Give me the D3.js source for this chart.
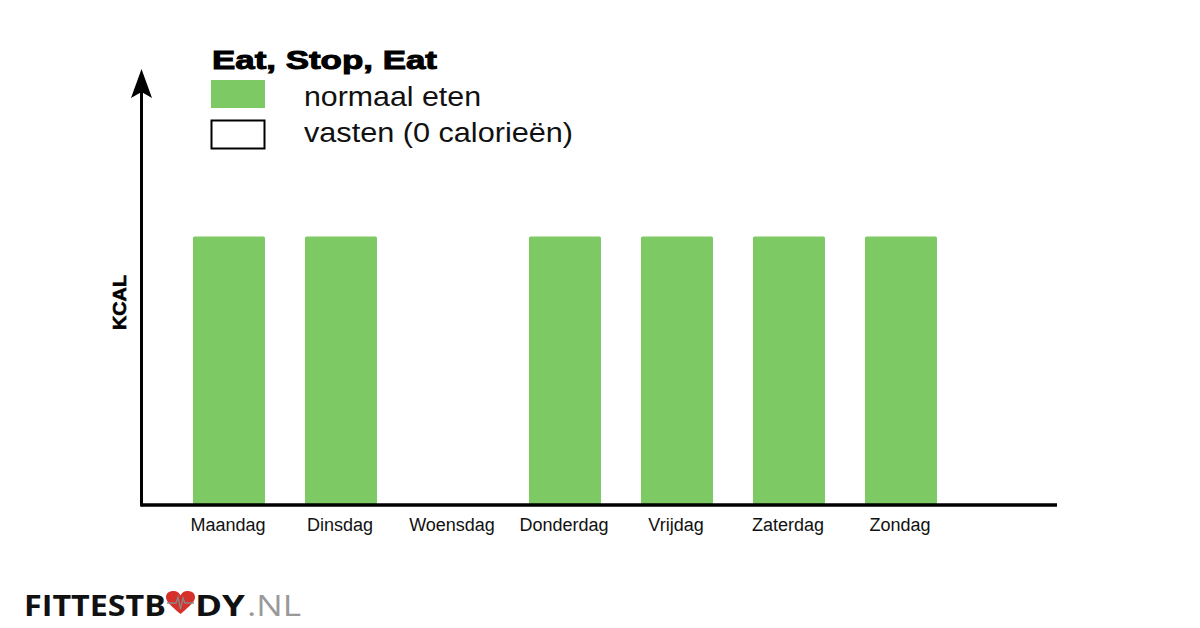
<!DOCTYPE html>
<html>
<head>
<meta charset="utf-8">
<script src="https://cdn.jsdelivr.net/npm/d3@7"></script>
<style>
  html, body { margin: 0; padding: 0; background: #fff; }
  svg { display: block; }
</style>
</head>
<body>
<svg id="chart" width="1200" height="628"></svg>
<script>
// ---- data ----
const days = ["Maandag", "Dinsdag", "Woensdag", "Donderdag", "Vrijdag", "Zaterdag", "Zondag"];
const kcal = [2000, 2000, 0, 2000, 2000, 2000, 2000];
const legendLabels = ["normaal eten", "vasten (0 calorieën)"];
const titleText = "Eat, Stop, Eat";
const yLabel = "KCAL";

const green = "#7dc963";
const svg = d3.select("#chart");

const x = d3.scaleBand().domain(days).range([173, 957]).paddingInner(40 / 112).paddingOuter(20 / 112);
const y = d3.scaleLinear().domain([0, 3230]).range([504, 72]);

// bars
svg.append("g").selectAll("rect").data(days.map((d, i) => ({ day: d, v: kcal[i] })).filter(d => d.v > 0))
  .join("rect")
  .attr("x", d => x(d.day))
  .attr("width", x.bandwidth())
  .attr("y", d => y(d.v))
  .attr("height", d => y(0) - y(d.v))
  .attr("rx", 1.5)
  .attr("fill", green);

// x axis line
svg.append("line").attr("x1", 141).attr("x2", 1057).attr("y1", 505).attr("y2", 505)
  .attr("stroke", "#000").attr("stroke-width", 3.5);
// y axis line
svg.append("line").attr("x1", 141.5).attr("x2", 141.5).attr("y1", 506.5).attr("y2", 90)
  .attr("stroke", "#000").attr("stroke-width", 3);
// arrow head
svg.append("path").attr("d", "M141.5,69 L152,98 L141.5,92 L131,98 Z").attr("fill", "#000");

// x labels via axis
const xAxis = svg.append("g").attr("transform", "translate(0,505)")
  .call(d3.axisBottom(x).tickSize(0).tickPadding(0));
xAxis.select(".domain").remove();
xAxis.selectAll("text")
  .attr("y", 0).attr("dy", 0)
  .attr("transform", "translate(-1,26)")
  .attr("font-family", "Liberation Sans, Arial, sans-serif")
  .attr("font-size", 18)
  .attr("fill", "#111");

// y label
svg.append("text")
  .attr("transform", "translate(126,302.5) rotate(-90)")
  .attr("text-anchor", "middle")
  .attr("font-family", "Liberation Sans, Arial, sans-serif")
  .attr("font-weight", "bold")
  .attr("font-size", 17.5)
  .attr("stroke", "#000").attr("stroke-width", 0.6)
  .attr("textLength", 55).attr("lengthAdjust", "spacingAndGlyphs")
  .text(yLabel);

// title
svg.append("text")
  .attr("x", 212).attr("y", 69)
  .attr("font-family", "Liberation Sans, Arial, sans-serif")
  .attr("font-weight", "bold")
  .attr("font-size", 26.5)
  .attr("stroke", "#000").attr("stroke-width", 1)
  .attr("textLength", 225).attr("lengthAdjust", "spacingAndGlyphs")
  .text(titleText);

// legend
const legendFills = [green, "#fff"];
const legendStroke = ["none", "#000"];
const legendW = [177, 269];
legendLabels.forEach((lab, i) => {
  const yy = 80 + i * 40;
  svg.append("rect")
    .attr("x", i === 0 ? 211 : 211.5).attr("y", i === 0 ? yy : yy + 0.5)
    .attr("width", i === 0 ? 54 : 53).attr("height", 28)
    .attr("fill", legendFills[i]).attr("stroke", legendStroke[i]).attr("stroke-width", 2);
  svg.append("text")
    .attr("x", 304).attr("y", 106 + i * 36)
    .attr("font-family", "Liberation Sans, Arial, sans-serif")
    .attr("font-size", 27.5)
    .attr("fill", "#111")
    .attr("textLength", legendW[i]).attr("lengthAdjust", "spacingAndGlyphs")
    .text(lab);
});

// logo
const logo = svg.append("g");
const logoFont = "'Open Sans', 'Noto Sans', sans-serif";
logo.append("text").attr("x", 24).attr("y", 615.5)
  .attr("font-family", logoFont).attr("font-weight", 700).attr("font-size", 28.5)
  .attr("fill", "#111").attr("textLength", 142).attr("lengthAdjust", "spacingAndGlyphs")
  .text("FITTESTB");
logo.append("path")
  .attr("d", "M180.5,614 C171,606 166,601.5 166,597 C166,593 169.5,591 173.5,591 C177,591 179.5,593 180.5,595.5 C181.5,593 184,591 187.5,591 C191.5,591 195,593 195,597 C195,601.5 190,606 180.5,614 Z")
  .attr("fill", "#d6302a");
logo.append("path")
  .attr("d", "M167,603 L176,603 L178,597 L180.5,609 L183,598 L185,603 L194,603")
  .attr("fill", "none").attr("stroke", "#888").attr("stroke-width", 1.3);
logo.append("text").attr("x", 195).attr("y", 615.5)
  .attr("font-family", logoFont).attr("font-weight", 700).attr("font-size", 28.5)
  .attr("fill", "#111").attr("textLength", 50).attr("lengthAdjust", "spacingAndGlyphs")
  .text("DY");
logo.append("text").attr("x", 247).attr("y", 615.5)
  .attr("font-family", logoFont).attr("font-weight", 400).attr("font-size", 28.5)
  .attr("fill", "#999").attr("textLength", 54).attr("lengthAdjust", "spacingAndGlyphs")
  .text(".NL");
</script>
</body>
</html>
